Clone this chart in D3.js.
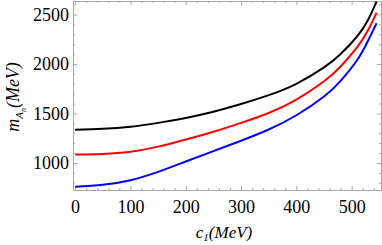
<!DOCTYPE html>
<html>
<head>
<meta charset="utf-8">
<script src="https://cdn.jsdelivr.net/npm/d3@7"></script>
<style>
  body { margin: 0; background: #fff; }
  .axis path, .axis line { stroke: #a8a8a8; }
</style>
</head>
<body>
<div id="chart"></div>
<script>
// values
var c1 = [0, 50, 100, 150, 200, 250, 300, 350, 400, 450, 480, 510, 530, 545];
var mBlack = [1336, 1345, 1366, 1405, 1455, 1518, 1595, 1685, 1800, 1965, 2100, 2280, 2450, 2630];
var mRed = [1086, 1091, 1113, 1165, 1237, 1315, 1405, 1505, 1640, 1825, 1975, 2170, 2345, 2519];
var mBlue = [760, 779, 826, 910, 1015, 1120, 1225, 1338, 1482, 1672, 1830, 2040, 2240, 2411];
var xTicks = [0, 100, 200, 300, 400, 500];
var yTicks = [1000, 1500, 2000, 2500];

var series = [
  { name: "black", color: "#000000", values: mBlack },
  { name: "red", color: "#ff0000", values: mRed },
  { name: "blue", color: "#0000ff", values: mBlue }
];

var serif = "'Liberation Serif', 'Times New Roman', serif";

var svgWidth = 382;
var svgHeight = 245;
var margin = { top: 1, right: 1, bottom: 55, left: 73 };
var width = svgWidth - margin.left - margin.right;
var height = svgHeight - margin.top - margin.bottom;

var svg = d3.select("#chart").append("svg")
  .attr("width", svgWidth)
  .attr("height", svgHeight);

var g = svg.append("g")
  .attr("transform", `translate(${margin.left}, ${margin.top})`);

var x = d3.scaleLinear().domain([-3.8, 553]).range([0, width]);
var y = d3.scaleLinear().domain([727, 2636]).range([height, 0]);

var xMinor = d3.range(0, 560, 20).filter(d => d % 100 !== 0);
var yMinor = d3.range(800, 2700, 100).filter(d => d % 500 !== 0);

// minor ticks
g.append("g").attr("class", "axis").attr("transform", `translate(0,${height})`)
  .call(d3.axisBottom(x).tickValues(xMinor).tickSize(-2).tickFormat(""))
  .call(s => s.select(".domain").remove());
g.append("g").attr("class", "axis")
  .call(d3.axisTop(x).tickValues(xMinor).tickSize(-2).tickFormat(""))
  .call(s => s.select(".domain").remove());
g.append("g").attr("class", "axis")
  .call(d3.axisLeft(y).tickValues(yMinor).tickSize(-2).tickFormat(""))
  .call(s => s.select(".domain").remove());
g.append("g").attr("class", "axis").attr("transform", `translate(${width},0)`)
  .call(d3.axisRight(y).tickValues(yMinor).tickSize(-2).tickFormat(""))
  .call(s => s.select(".domain").remove());

// major ticks
g.append("g").attr("class", "axis").attr("transform", `translate(0,${height})`)
  .call(d3.axisBottom(x).tickValues(xTicks).tickSize(-4).tickSizeOuter(0).tickPadding(6).tickFormat(d3.format("d")))
  .call(s => s.attr("font-family", null).attr("font-size", null))
  .call(s => s.selectAll("text").attr("fill", "#000").attr("dy", "0.95em")
    .style("font-family", serif).style("font-size", "18px"));
g.append("g").attr("class", "axis")
  .call(d3.axisTop(x).tickValues(xTicks).tickSize(-4).tickSizeOuter(0).tickFormat(""));
g.append("g").attr("class", "axis")
  .call(d3.axisLeft(y).tickValues(yTicks).tickSize(-4).tickSizeOuter(0).tickPadding(4).tickFormat(d3.format("d")))
  .call(s => s.attr("font-family", null).attr("font-size", null))
  .call(s => s.selectAll("text").attr("fill", "#000")
    .style("font-family", serif).style("font-size", "18px"));
g.append("g").attr("class", "axis").attr("transform", `translate(${width},0)`)
  .call(d3.axisRight(y).tickValues(yTicks).tickSize(-4).tickSizeOuter(0).tickFormat(""));

// curves
var line = d3.line()
  .x((d, i) => x(c1[i]))
  .y(d => y(d))
  .curve(d3.curveNatural);

g.selectAll(".curve").data(series).enter()
  .append("path")
  .attr("class", "curve")
  .attr("fill", "none")
  .attr("stroke", d => d.color)
  .attr("stroke-width", 2)
  .attr("d", d => line(d.values));

// axis titles
var xt = svg.append("text")
  .attr("x", 224)
  .attr("y", 238)
  .attr("text-anchor", "middle")
  .style("font-family", serif)
  .attr("font-size", 17)
  .attr("font-style", "italic");
xt.append("tspan").text("c");
xt.append("tspan").attr("font-size", 11).attr("dy", 3).text("1");
xt.append("tspan").attr("dy", -3).text("(MeV)");

var yt = svg.append("text")
  .attr("transform", "translate(19, 97) rotate(-90)")
  .attr("text-anchor", "middle")
  .style("font-family", serif)
  .attr("font-size", 18)
  .attr("font-style", "italic");
yt.append("tspan").text("m");
yt.append("tspan").attr("font-size", 11).attr("dy", 4).text("A");
yt.append("tspan").attr("font-size", 8).attr("dy", 3).text("n");
yt.append("tspan").attr("dy", -7).text("(MeV)");
</script>
</body>
</html>
